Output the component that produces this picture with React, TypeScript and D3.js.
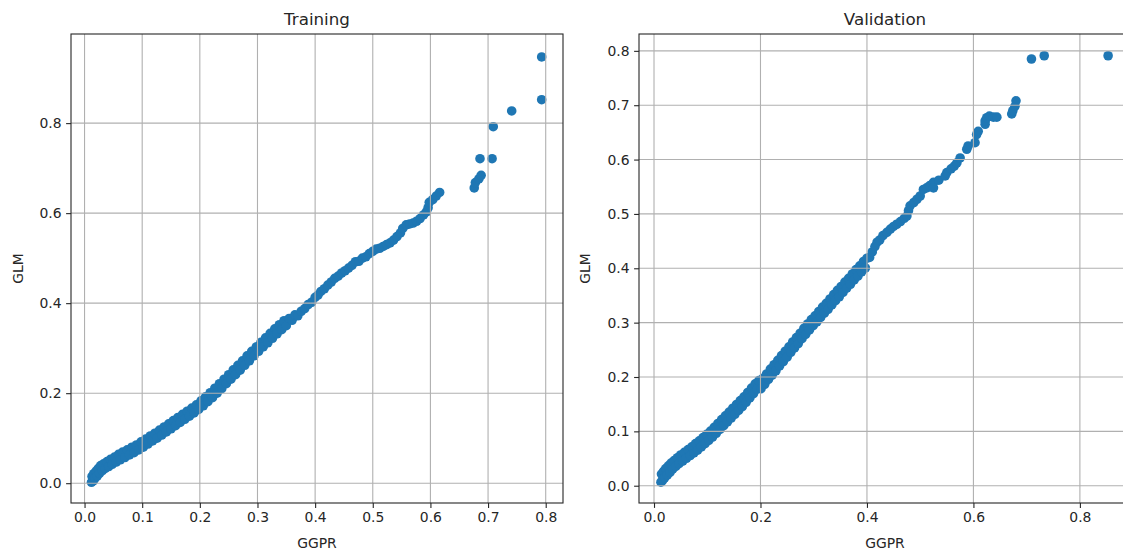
import { useEffect, useRef } from "react";
import * as d3 from "d3";

// Training scatter (GGPR vs GLM)
const TRAIN_GGPR = [
  0.012, 0.013, 0.015, 0.016, 0.018, 0.02, 0.022, 0.024, 0.026, 0.028, 0.031, 0.033, 0.036, 0.039,
  0.042, 0.045, 0.048, 0.052, 0.055, 0.059, 0.062, 0.066, 0.07, 0.074, 0.078, 0.082, 0.086, 0.09,
  0.094, 0.098, 0.102, 0.106, 0.11, 0.114, 0.118, 0.122, 0.126, 0.13, 0.134, 0.138, 0.142, 0.146,
  0.15, 0.154, 0.158, 0.162, 0.166, 0.17, 0.174, 0.178, 0.182, 0.186, 0.19, 0.194, 0.198, 0.202,
  0.206, 0.21, 0.214, 0.218, 0.222, 0.226, 0.23, 0.234, 0.238, 0.242, 0.246, 0.25, 0.254, 0.258,
  0.262, 0.266, 0.27, 0.274, 0.278, 0.282, 0.286, 0.29, 0.294, 0.298, 0.302, 0.306, 0.31, 0.314,
  0.318, 0.322, 0.326, 0.33, 0.334, 0.338, 0.342, 0.346, 0.35, 0.355, 0.36, 0.365, 0.37, 0.376,
  0.382, 0.388, 0.394, 0.4, 0.405, 0.41, 0.416, 0.422, 0.428, 0.434, 0.44, 0.446, 0.452, 0.458,
  0.464, 0.47, 0.476, 0.482, 0.488, 0.494, 0.5, 0.506, 0.512, 0.518, 0.524, 0.53, 0.536, 0.542,
  0.548, 0.552, 0.558, 0.564, 0.57, 0.576, 0.582, 0.588, 0.593, 0.596, 0.598, 0.604, 0.61, 0.616,
  0.676, 0.678, 0.684, 0.688, 0.686, 0.707, 0.709, 0.741, 0.793, 0.793,
];
const TRAIN_GLM = [
  0.002, 0.015, 0.005, 0.021, 0.011, 0.027, 0.016, 0.033, 0.022, 0.039, 0.028, 0.043, 0.033, 0.048,
  0.037, 0.053, 0.042, 0.058, 0.047, 0.064, 0.052, 0.069, 0.057, 0.074, 0.063, 0.08, 0.068, 0.085,
  0.074, 0.092, 0.08, 0.098, 0.087, 0.105, 0.094, 0.111, 0.1, 0.118, 0.107, 0.125, 0.114, 0.132,
  0.121, 0.139, 0.128, 0.146, 0.135, 0.153, 0.142, 0.16, 0.149, 0.167, 0.156, 0.174, 0.164, 0.183,
  0.172, 0.192, 0.181, 0.201, 0.19, 0.211, 0.2, 0.221, 0.21, 0.231, 0.221, 0.241, 0.231, 0.252,
  0.241, 0.262, 0.251, 0.272, 0.262, 0.283, 0.272, 0.293, 0.283, 0.303, 0.293, 0.313, 0.303, 0.323,
  0.312, 0.333, 0.322, 0.343, 0.332, 0.352, 0.341, 0.361, 0.35, 0.366, 0.362, 0.374, 0.372, 0.382,
  0.388, 0.397, 0.402, 0.413, 0.418, 0.426, 0.432, 0.44, 0.447, 0.455, 0.46, 0.467, 0.472, 0.478,
  0.484, 0.492, 0.493, 0.5, 0.503, 0.51, 0.515, 0.52, 0.522, 0.526, 0.53, 0.534, 0.54, 0.548,
  0.556, 0.566, 0.574, 0.576, 0.578, 0.582, 0.588, 0.596, 0.603, 0.612, 0.624, 0.63, 0.638, 0.646,
  0.656, 0.668, 0.676, 0.684, 0.721, 0.721, 0.792, 0.827, 0.852, 0.947,
];

// Validation scatter
const VALID_GGPR = [
  0.013, 0.014, 0.016, 0.018, 0.02, 0.022, 0.025, 0.027, 0.03, 0.032, 0.035, 0.038, 0.041, 0.044,
  0.047, 0.05, 0.054, 0.057, 0.061, 0.064, 0.068, 0.071, 0.075, 0.078, 0.082, 0.085, 0.089, 0.092,
  0.096, 0.099, 0.103, 0.106, 0.11, 0.113, 0.117, 0.12, 0.124, 0.127, 0.131, 0.134, 0.138, 0.141,
  0.145, 0.148, 0.152, 0.155, 0.159, 0.162, 0.166, 0.169, 0.173, 0.176, 0.18, 0.183, 0.187, 0.19,
  0.194, 0.197, 0.201, 0.2045, 0.208, 0.2115, 0.215, 0.2185, 0.222, 0.2255, 0.229, 0.2325, 0.236,
  0.2395, 0.243, 0.2465, 0.25, 0.2535, 0.257, 0.2605, 0.264, 0.2675, 0.271, 0.2745, 0.278, 0.2815,
  0.285, 0.2885, 0.292, 0.2955, 0.299, 0.3025, 0.306, 0.3095, 0.313, 0.3165, 0.32, 0.3235, 0.327,
  0.3305, 0.334, 0.3375, 0.341, 0.3445, 0.348, 0.3515, 0.355, 0.3585, 0.362, 0.3655, 0.369, 0.3725,
  0.376, 0.3795, 0.383, 0.3865, 0.39, 0.3935, 0.397, 0.4, 0.405, 0.41, 0.415, 0.419, 0.424, 0.43,
  0.4375, 0.444, 0.45, 0.456, 0.463, 0.47, 0.475, 0.478, 0.481, 0.488, 0.494, 0.5, 0.506, 0.512,
  0.518, 0.525, 0.525, 0.535, 0.547, 0.55, 0.558, 0.564, 0.569, 0.575, 0.5875, 0.59, 0.603, 0.606,
  0.609, 0.622, 0.622, 0.625, 0.63, 0.6375, 0.644, 0.672, 0.674, 0.678, 0.68, 0.709, 0.733, 0.853,
];
const VALID_GLM = [
  0.0065, 0.0215, 0.0095, 0.0265, 0.0145, 0.0315, 0.0195, 0.0365, 0.0245, 0.0415, 0.0305, 0.0465, 0.0355, 0.0515,
  0.0405, 0.0565, 0.0455, 0.0615, 0.0505, 0.0665, 0.0555, 0.0715, 0.0605, 0.0775, 0.0655, 0.0825, 0.0715, 0.0885,
  0.0775, 0.0945, 0.0835, 0.1005, 0.0895, 0.1075, 0.0965, 0.1145, 0.1035, 0.1215, 0.1105, 0.1285, 0.1175, 0.1355,
  0.1245, 0.1425, 0.1315, 0.1495, 0.1385, 0.1565, 0.1455, 0.1635, 0.1535, 0.1715, 0.1615, 0.1795, 0.1695, 0.1875,
  0.1775, 0.1935, 0.1785, 0.1975, 0.1865, 0.2055, 0.1955, 0.2145, 0.2035, 0.2225, 0.2115, 0.2305, 0.2205, 0.2395,
  0.2285, 0.2475, 0.2365, 0.2555, 0.2455, 0.2645, 0.2535, 0.2725, 0.2615, 0.2805, 0.2705, 0.2895, 0.2785, 0.2975,
  0.2865, 0.3055, 0.2945, 0.3125, 0.3015, 0.3205, 0.3095, 0.3285, 0.3175, 0.3355, 0.3245, 0.3435, 0.3325, 0.3515,
  0.3405, 0.3595, 0.3475, 0.3665, 0.3555, 0.3745, 0.3635, 0.3815, 0.3705, 0.3895, 0.3785, 0.3975, 0.3855, 0.4045,
  0.3935, 0.4125, 0.4005, 0.4185, 0.42, 0.43, 0.44, 0.448, 0.452, 0.46, 0.466, 0.472, 0.477, 0.481,
  0.486, 0.492, 0.496, 0.506, 0.515, 0.521, 0.527, 0.533, 0.545, 0.548, 0.552, 0.558, 0.548, 0.562,
  0.57, 0.576, 0.583, 0.588, 0.594, 0.603, 0.619, 0.625, 0.631, 0.646, 0.652, 0.665, 0.671, 0.677,
  0.68, 0.678, 0.678, 0.684, 0.69, 0.698, 0.708, 0.785, 0.791, 0.791,
];

const TRAIN_X_TICKS = [0, 0.1, 0.2, 0.3, 0.4, 0.5, 0.6, 0.7, 0.8];
const TRAIN_Y_TICKS = [0, 0.2, 0.4, 0.6, 0.8];
const VALID_X_TICKS = [0, 0.2, 0.4, 0.6, 0.8];
const VALID_Y_TICKS = [0, 0.1, 0.2, 0.3, 0.4, 0.5, 0.6, 0.7, 0.8];

const WIDTH = 1123;
const HEIGHT = 553;
const FONT = "DejaVu Sans, sans-serif";
const POINT_COLOR = "#1f77b4";
const GRID_COLOR = "#b0b0b0";
const TEXT_COLOR = "#262626";
const POINT_RADIUS = 4.8;
const TICK_LEN = 4.9;

type Panel = {
  title: string;
  xs: number[];
  ys: number[];
  xTicks: number[];
  yTicks: number[];
  xDomain: [number, number];
  yDomain: [number, number];
  left: number;
  right: number;
  yLabelX: number;
};

const PANELS: Panel[] = [
  {
    title: "Training",
    xs: TRAIN_GGPR,
    ys: TRAIN_GLM,
    xTicks: TRAIN_X_TICKS,
    yTicks: TRAIN_Y_TICKS,
    xDomain: [-0.0235, 0.83],
    yDomain: [-0.044, 0.998],
    left: 71,
    right: 563,
    yLabelX: 18,
  },
  {
    title: "Validation",
    xs: VALID_GGPR,
    ys: VALID_GLM,
    xTicks: VALID_X_TICKS,
    yTicks: VALID_Y_TICKS,
    xDomain: [-0.0282, 0.896],
    yDomain: [-0.0318, 0.831],
    left: 639,
    right: 1131,
    yLabelX: 585,
  },
];

const TOP = 34;
const BOTTOM = 503;

function drawPanel(svg: d3.Selection<SVGSVGElement, unknown, null, undefined>, p: Panel) {
  const x = d3.scaleLinear().domain(p.xDomain).range([p.left, p.right]);
  const y = d3.scaleLinear().domain(p.yDomain).range([BOTTOM, TOP]);
  const fmt = d3.format(".1f");
  const g = svg.append("g");

  // points first; matplotlib puts the grid above scatter collections
  g.append("g")
    .selectAll("circle")
    .data(p.xs.map((v, i) => [v, p.ys[i]] as [number, number]))
    .join("circle")
    .attr("cx", (d) => x(d[0]))
    .attr("cy", (d) => y(d[1]))
    .attr("r", POINT_RADIUS)
    .attr("fill", POINT_COLOR);

  const grid = g.append("g").attr("stroke", GRID_COLOR).attr("stroke-width", 1.1);
  p.xTicks.forEach((t) => {
    grid.append("line").attr("x1", x(t)).attr("x2", x(t)).attr("y1", TOP).attr("y2", BOTTOM);
  });
  p.yTicks.forEach((t) => {
    grid.append("line").attr("x1", p.left).attr("x2", p.right).attr("y1", y(t)).attr("y2", y(t));
  });

  const xAxis = g
    .append("g")
    .attr("transform", `translate(0,${BOTTOM})`)
    .call(d3.axisBottom(x).tickValues(p.xTicks).tickFormat((d) => fmt(d as number)).tickSize(TICK_LEN).tickPadding(4.5));
  const yAxis = g
    .append("g")
    .attr("transform", `translate(${p.left},0)`)
    .call(d3.axisLeft(y).tickValues(p.yTicks).tickFormat((d) => fmt(d as number)).tickSize(TICK_LEN).tickPadding(4.5));
  [xAxis, yAxis].forEach((a) => {
    a.select(".domain").remove();
    a.selectAll("line").attr("stroke", TEXT_COLOR).attr("stroke-width", 1.1);
    a.selectAll("text").attr("fill", TEXT_COLOR).style("font-family", FONT).style("font-size", "13.9px");
  });

  // spines
  g.append("rect")
    .attr("x", p.left)
    .attr("y", TOP)
    .attr("width", p.right - p.left)
    .attr("height", BOTTOM - TOP)
    .attr("fill", "none")
    .attr("stroke", TEXT_COLOR)
    .attr("stroke-width", 1.1);

  const cx = (p.left + p.right) / 2;
  g.append("text")
    .attr("x", cx)
    .attr("y", 24.5)
    .attr("text-anchor", "middle")
    .attr("fill", TEXT_COLOR)
    .style("font-family", FONT)
    .style("font-size", "16.7px")
    .text(p.title);

  g.append("text")
    .attr("x", cx)
    .attr("y", 548)
    .attr("text-anchor", "middle")
    .attr("fill", TEXT_COLOR)
    .style("font-family", FONT)
    .style("font-size", "13.9px")
    .text("GGPR");

  g.append("text")
    .attr("transform", `translate(${p.yLabelX},${(TOP + BOTTOM) / 2}) rotate(-90)`)
    .attr("dy", "0.35em")
    .attr("text-anchor", "middle")
    .attr("fill", TEXT_COLOR)
    .style("font-family", FONT)
    .style("font-size", "13.9px")
    .text("GLM");
}

export default function App() {
  const svgRef = useRef<SVGSVGElement>(null);

  useEffect(() => {
    if (!svgRef.current) return;
    const svg = d3.select(svgRef.current);
    svg.selectAll("*").remove();
    PANELS.forEach((p) => drawPanel(svg, p));
  }, []);

  return (
    <>
      <style>{`body{margin:0;overflow:hidden;background:#fff}`}</style>
      <svg ref={svgRef} width={WIDTH} height={HEIGHT} style={{ display: "block" }} />
    </>
  );
}
